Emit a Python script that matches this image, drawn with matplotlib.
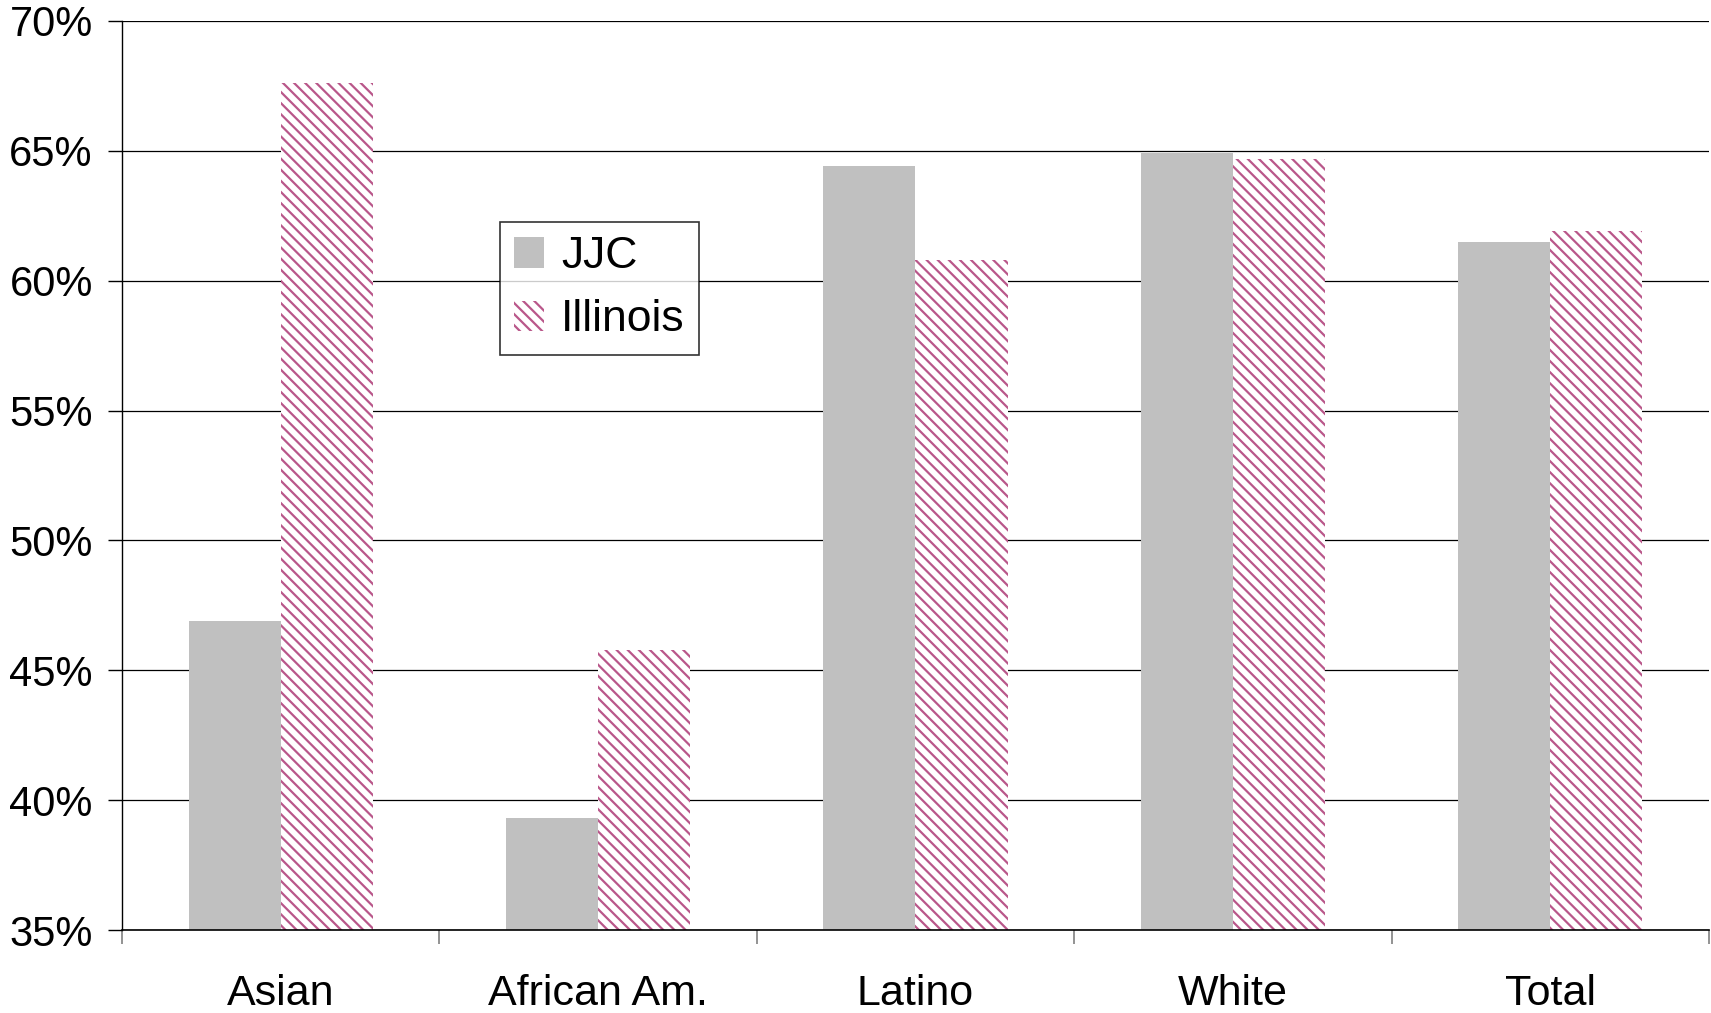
import numpy as np
import matplotlib
matplotlib.use("Agg")
import matplotlib.pyplot as plt
from matplotlib.ticker import FixedLocator, FuncFormatter

plt.rcParams['font.family'] = ['Liberation Sans', 'DejaVu Sans']
plt.rcParams['hatch.linewidth'] = 1.6

categories = ["Asian", "African Am.", "Latino", "White", "Total"]
jjc = [46.9, 39.3, 64.4, 64.9, 61.5]
illinois = [67.6, 45.8, 60.8, 64.7, 61.9]

JJC_COLOR = "#c0c0c0"
IL_COLOR = "#b9578a"

fig = plt.figure(figsize=(17.11, 10.13), dpi=100)
ax = fig.add_axes([0.0713, 0.0819, 0.9275, 0.8974])

x = np.arange(len(categories))
w = 0.29
ax.bar(x - w / 2, jjc, width=w, color=JJC_COLOR, linewidth=0, label="JJC", zorder=2)
ax.bar(x + w / 2, illinois, width=w, facecolor="white", edgecolor=IL_COLOR,
       hatch="\\\\\\", linewidth=0, label="Illinois", zorder=2)

ax.set_xlim(-0.5, len(categories) - 0.5)
ax.set_ylim(35, 70)
ax.set_yticks(np.arange(35, 71, 5))
ax.yaxis.set_major_formatter(FuncFormatter(lambda v, p: f"{v:.0f}%"))
ax.yaxis.grid(True, color="black", linewidth=0.9, zorder=0)
ax.set_axisbelow(True)

# category boundaries as ticks, labels at centres
ax.xaxis.set_major_locator(FixedLocator(np.arange(-0.5, len(categories), 1.0)))
ax.xaxis.set_minor_locator(FixedLocator(x))
ax.set_xticklabels([])
ax.set_xticklabels(categories, minor=True)
ax.tick_params(axis="x", which="major", length=10, width=1.2, color="#808080", direction="out")
ax.tick_params(axis="x", which="minor", length=0, pad=32, labelsize=31)
ax.tick_params(axis="y", length=10, width=1, color="black", pad=11, labelsize=30)

for s in ["top", "right"]:
    ax.spines[s].set_visible(False)
ax.spines["left"].set_color("black")
ax.spines["bottom"].set_color("black")
ax.spines["left"].set_linewidth(1)
ax.spines["bottom"].set_linewidth(1.2)

leg = ax.legend(loc="upper left", bbox_to_anchor=(500 / 1711, 1 - 222 / 1013),
                bbox_transform=fig.transFigure, fontsize=32, frameon=True,
                fancybox=False, edgecolor="black", borderpad=0.32,
                handlelength=0.68, handleheight=0.68, handletextpad=0.38,
                labelspacing=0.5, borderaxespad=0)
leg.get_frame().set_linewidth(1.2)

fig.savefig("out.png", dpi=100)
